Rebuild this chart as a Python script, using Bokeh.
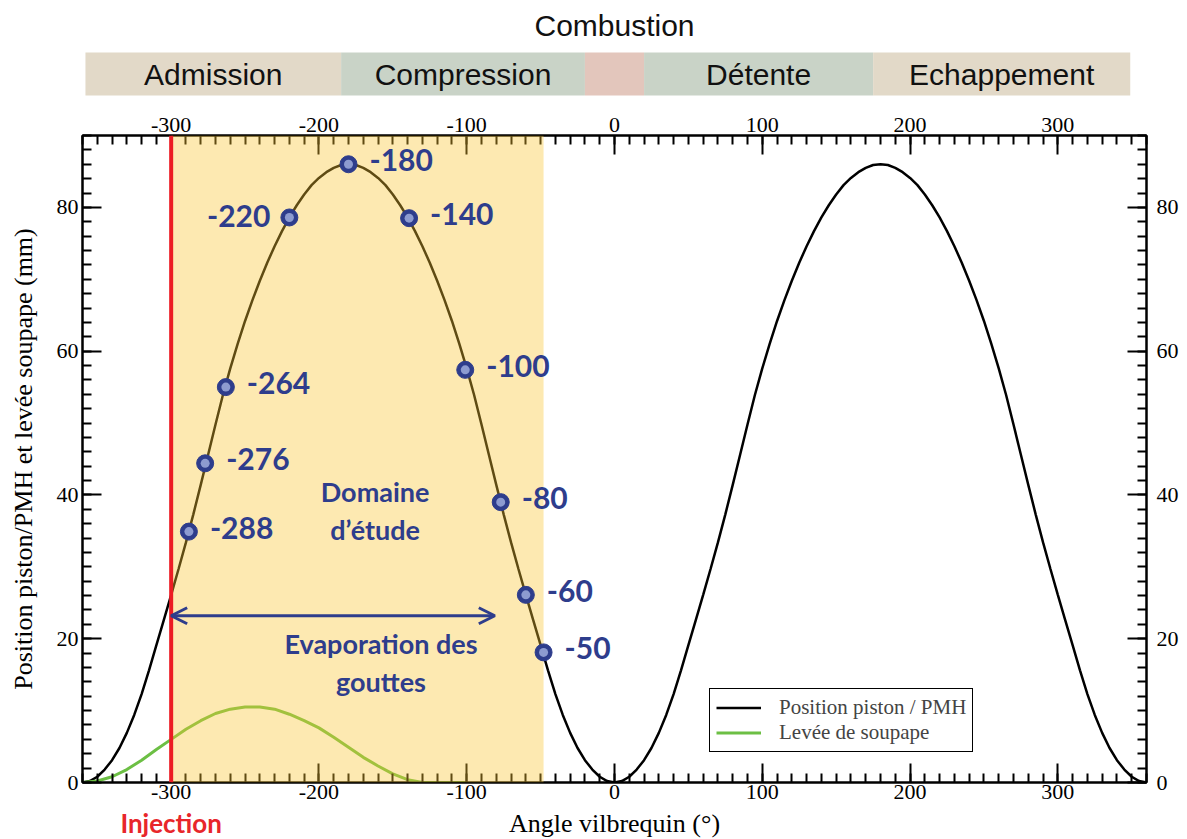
from bokeh.plotting import figure
from bokeh.layouts import column
from bokeh.models import (Range1d, LinearAxis, FixedTicker, BoxAnnotation, Arrow, OpenHead,
                          Legend, LegendItem, Span, PrintfTickFormatter)
from bokeh.core.properties import value
from bokeh.embed import file_html
from bokeh.resources import INLINE

# ---------------- data ----------------
crank_angle = list(range(-360, 361, 5))
piston_mm = [
    # -360 .. -180
    0.0, 0.2, 0.8, 1.8, 3.1, 4.8, 6.9, 9.4, 12.3, 15.6, 19.1, 22.6, 26.1, 29.7, 33.4, 37.3, 41.4, 45.6,
    49.8, 53.9, 57.6, 61.0, 64.2, 67.1, 69.8, 72.3, 74.6, 76.7, 78.6, 80.3, 81.8, 83.1, 84.1, 84.9, 85.5,
    85.9, 86.0,
    # -175 .. 0
    85.9, 85.5, 84.9, 84.1, 83.1, 81.8, 80.3, 78.6, 76.7, 74.6, 72.3, 69.8, 67.1, 64.2, 61.0, 57.6, 53.9,
    49.8, 45.6, 41.4, 37.3, 33.4, 29.7, 26.1, 22.6, 19.1, 15.6, 12.3, 9.4, 6.9, 4.8, 3.1, 1.8, 0.8, 0.2, 0.0,
    # 5 .. 180
    0.2, 0.8, 1.8, 3.1, 4.8, 6.9, 9.4, 12.3, 15.6, 19.1, 22.6, 26.1, 29.7, 33.4, 37.3, 41.4, 45.6,
    49.8, 53.9, 57.6, 61.0, 64.2, 67.1, 69.8, 72.3, 74.6, 76.7, 78.6, 80.3, 81.8, 83.1, 84.1, 84.9, 85.5,
    85.9, 86.0,
    # 185 .. 360
    85.9, 85.5, 84.9, 84.1, 83.1, 81.8, 80.3, 78.6, 76.7, 74.6, 72.3, 69.8, 67.1, 64.2, 61.0, 57.6, 53.9,
    49.8, 45.6, 41.4, 37.3, 33.4, 29.7, 26.1, 22.6, 19.1, 15.6, 12.3, 9.4, 6.9, 4.8, 3.1, 1.8, 0.8, 0.2, 0.0,
]
valve_angle = list(range(-360, -99, 10))
valve_mm = [0.0, 0.2, 0.8, 1.8, 3.1, 4.6, 6.0, 7.4, 8.6, 9.6, 10.2, 10.5, 10.5, 10.2, 9.5, 8.6,
            7.6, 6.3, 4.9, 3.5, 2.3, 1.2, 0.4, 0.0, 0.0, 0.0, 0.0]

dot_angle = [-288, -277, -263, -180, -139, -101, -77, -60, -48]
dot_mm = [34.9, 44.4, 55.0, 86.0, 78.5, 57.4, 39.0, 26.1, 18.1]
dot_text = ["-288", "-276", "-264", "-180", "-140", "-100", "-80", "-60", "-50"]
left_dot_angle = [-220]
left_dot_mm = [78.6]
left_dot_text = ["-220"]

phase_names = ["Admission", "Compression", "", "Détente", "Echappement"]
phase_start = [-358, -185, -20, 20, 175]
phase_end = [-185, -20, 20, 175, 349]
phase_colors = ["#E2D9C8", "#C9D3C7", "#E3C6BC", "#C9D3C7", "#E2D9C8"]

x_major = [-300, -200, -100, 0, 100, 200, 300]
x_minor = list(range(-360, 361, 10))
y_major = [0, 20, 40, 60, 80]
y_minor = list(range(0, 91, 2))

injection_angle = -300
study_end_angle = -48
evap_end_angle = -81
evap_arrow_mm = 23.2

BLUE = "#2E3D8C"
RED = "#EC1C24"
GREEN = "#6CBF44"
SERIF = "Liberation Serif"

W = 1186
BL, BR = 82, 40

# ---------------- main plot ----------------
p = figure(width=W, height=702, x_range=Range1d(-360, 360), y_range=Range1d(0, 90),
           output_backend="svg", toolbar_location=None,
           min_border_left=BL, min_border_right=BR, min_border_top=30, min_border_bottom=25)
p.xgrid.visible = False
p.ygrid.visible = False
p.outline_line_color = "black"
p.outline_line_width = 2

p.add_layout(LinearAxis(), "above")
p.add_layout(LinearAxis(), "right")
xt = FixedTicker(ticks=x_major, minor_ticks=x_minor)
yt = FixedTicker(ticks=y_major, minor_ticks=y_minor)
for ax in p.xaxis:
    ax.ticker = xt
for ax in p.yaxis:
    ax.ticker = yt
for ax in p.axis:
    ax.formatter = PrintfTickFormatter(format="%d")
    ax.axis_line_width = 2
    ax.major_tick_in = 19
    ax.major_tick_out = 0
    ax.major_tick_line_width = 2
    ax.minor_tick_in = 9
    ax.minor_tick_out = 0
    ax.minor_tick_line_width = 2
    ax.major_label_text_font = SERIF
    ax.major_label_text_font_size = "22px"
    ax.major_label_text_color = "black"
    ax.major_label_standoff = 4
    ax.axis_label_text_font = SERIF
    ax.axis_label_text_font_style = "normal"
    ax.axis_label_text_color = "black"
    ax.axis_label_text_font_size = "26px"

p.below[0].major_label_standoff = 2
p.left[0].axis_label = "Position piston/PMH et levée soupape (mm)"
p.left[0].axis_label_standoff = 16
p.right[0].major_label_standoff = 10

r_piston = p.line(crank_angle, piston_mm, line_color="black", line_width=2.5)
r_valve = p.line(valve_angle, valve_mm, line_color=GREEN, line_width=3)

p.add_layout(BoxAnnotation(left=injection_angle, right=study_end_angle,
                           fill_color="#FAC632", fill_alpha=0.38, line_color=None))
p.add_layout(Span(location=injection_angle, dimension="height", line_color=RED,
                  line_width=4, level="overlay"))

p.add_layout(Arrow(start=OpenHead(size=16, line_color=BLUE, line_width=3),
                   end=OpenHead(size=16, line_color=BLUE, line_width=3),
                   x_start=injection_angle, y_start=evap_arrow_mm,
                   x_end=evap_end_angle, y_end=evap_arrow_mm,
                   line_color=BLUE, line_width=3, level="overlay"))

all_dot_angle = dot_angle + left_dot_angle
all_dot_mm = dot_mm + left_dot_mm
p.scatter(all_dot_angle, all_dot_mm, size=17, fill_color=BLUE, line_color=BLUE, level="overlay")
p.scatter(all_dot_angle, all_dot_mm, size=9, fill_color="#8D9BD0", line_color=None, level="overlay")

lbl = dict(text_font=value("Lato"), text_font_style="bold", text_font_size="30px",
           text_color=BLUE, text_baseline="middle", level="overlay")
p.text(x=dot_angle, y=dot_mm, text=dot_text, text_align="left", x_offset=21, y_offset=-4, **lbl)
p.text(x=left_dot_angle, y=left_dot_mm, text=left_dot_text, text_align="right", x_offset=-19,
       y_offset=-1, **lbl)

blk = dict(text_font=value("Lato"), text_font_style="bold", text_font_size="27px",
           text_color=BLUE, text_baseline="middle", text_align="center", level="overlay",
           text_line_height=1.15)
p.text(x=[-162], y=[37.9], text=["Domaine\nd\u2019étude"], **blk)
p.text(x=[-158], y=[16.7], text=["Evaporation des\ngouttes"], **blk)

legend = Legend(items=[LegendItem(label="Position piston / PMH", renderers=[r_piston]),
                       LegendItem(label="Levée de soupape", renderers=[r_valve])],
                location=(627, 30))
legend.border_line_color = "black"
legend.border_line_width = 1.5
legend.border_line_alpha = 1
legend.label_text_font = SERIF
legend.label_text_font_size = "21px"
legend.glyph_width = 45
legend.glyph_height = 23
legend.label_standoff = 18
legend.padding = 6
legend.spacing = 0
legend.margin = 0
legend.background_fill_alpha = 1
p.add_layout(legend)

# ---------------- phase bar (above) ----------------
top = figure(width=W, height=105, x_range=p.x_range, y_range=Range1d(105, 0),
             output_backend="svg", toolbar_location=None,
             min_border_left=BL, min_border_right=BR, min_border_top=0, min_border_bottom=0,
             x_axis_location=None, y_axis_location=None)
top.outline_line_color = None
top.xgrid.visible = False
top.ygrid.visible = False
top.quad(left=phase_start, right=phase_end, top=52, bottom=95, fill_color=phase_colors,
         line_color=None)
phase_mid = [(a + b) / 2 for a, b in zip(phase_start, phase_end)]
top.text(x=phase_mid, y=[74] * len(phase_mid), text=phase_names, text_align="center",
         text_baseline="middle", text_font=value("Liberation Sans"), text_font_size="30px",
         text_color="#111111")
top.text(x=[0], y=[25], text=["Combustion"], text_align="center", text_baseline="middle",
         text_font=value("Liberation Sans"), text_font_size="30px", text_color="#111111")

# ---------------- bottom strip: x-axis title and injection marker ----------------
bot = figure(width=W, height=31, x_range=p.x_range, y_range=Range1d(31, 0),
             output_backend="svg", toolbar_location=None,
             min_border_left=BL, min_border_right=BR, min_border_top=0, min_border_bottom=0,
             x_axis_location=None, y_axis_location=None)
bot.outline_line_color = None
bot.xgrid.visible = False
bot.ygrid.visible = False
bot.text(x=[0], y=[15.5], text=["Angle vilbrequin (°)"], text_align="center", text_baseline="middle",
         text_font=value(SERIF), text_font_size="26px", text_color="black")
bot.text(x=[injection_angle], y=[15.5], text=["Injection"], text_align="center",
         text_baseline="middle", text_font=value("Lato"), text_font_style="bold",
         text_font_size="26px", text_color="#E8262A")

layout = column(top, p, bot, spacing=0)
open("out.html", "w").write(file_html(layout, INLINE))
